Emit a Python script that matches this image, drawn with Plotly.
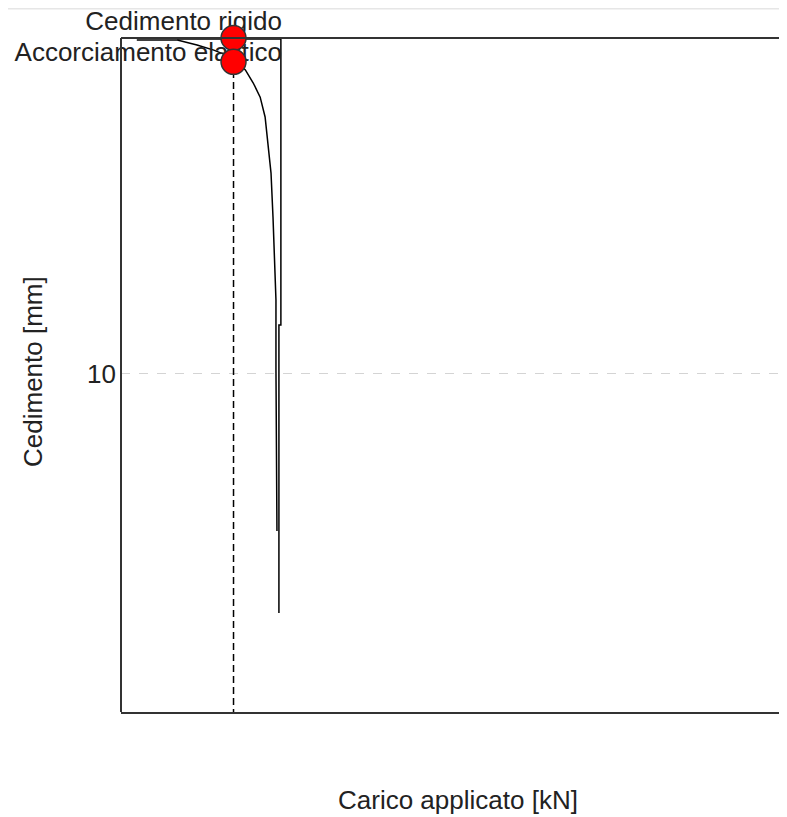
import plotly.graph_objects as go

# load-settlement curve (loading branch)
load_kn = [24, 85.5, 115.5, 141, 171, 189, 201, 211.5, 219, 223.5, 228, 231, 234, 235.5, 235.5, 237]
settle_mm = [0.06, 0.06, 0.21, 0.36, 0.6, 0.95, 1.34, 1.76, 2.35, 3.13, 4.02, 5.33, 6.70, 7.80, 9.85, 14.67]

# second branch (vertical / return along the top)
load2_kn = [240, 240, 243, 243, 85.5]
settle2_mm = [17.11, 8.54, 8.54, 0.03, 0.03]

# reference points
pt_names = ["Cedimento rigido", "Accorciamento elastico"]
pt_load = [171, 171]
pt_settle = [0.0, 0.71]
label_dx = 73.5
label_dy = [-0.42, -0.21]

y_max = 20.06
y_top = -0.893
x_max = 1000

fig = go.Figure()

fig.add_trace(go.Scatter(
    x=[pt_load[0], pt_load[0]], y=[0, y_max], mode="lines",
    line=dict(color="black", width=1.5, dash="7px,4px"), hoverinfo="skip"))

fig.add_trace(go.Scatter(
    x=load_kn, y=settle_mm, mode="lines",
    line=dict(color="black", width=1.5), cliponaxis=False))
fig.add_trace(go.Scatter(
    x=load2_kn, y=settle2_mm, mode="lines",
    line=dict(color="black", width=1.5), cliponaxis=False))

fig.add_trace(go.Scatter(
    x=[x + label_dx for x in pt_load],
    y=[s + d for s, d in zip(pt_settle, label_dy)],
    mode="text", text=pt_names, textposition="middle left",
    textfont=dict(family="Liberation Sans", size=26, color="#222"),
    cliponaxis=False))

for i in range(2):
    fig.add_trace(go.Scatter(
        x=[pt_load[i]], y=[pt_settle[i]], mode="markers",
        marker=dict(size=25, color="red", line=dict(color="#333", width=1.5)),
        cliponaxis=False, name=pt_names[i]))

# frame: top and left edges (bottom comes from the x axis line)
fig.add_shape(type="line", xref="paper", yref="y", x0=0, x1=1.02, y0=0, y1=0,
              line=dict(color="#333", width=2))
fig.add_shape(type="line", xref="paper", yref="y", x0=0, x1=0, y0=0, y1=y_max,
              line=dict(color="#333", width=2))
fig.add_shape(type="line", xref="paper", yref="paper",
              x0=-0.2, x1=1.02, y0=1.0, y1=1.0,
              line=dict(color="#e6e6e6", width=3))

# axis titles
fig.add_annotation(text="Carico applicato [kN]", xref="paper", yref="paper",
                   x=0.512, y=0, yshift=-88, showarrow=False,
                   xanchor="center", yanchor="middle", font=dict(size=26))
fig.add_annotation(text="Cedimento [mm]", xref="paper", yref="y",
                   x=0, xshift=-88, y=9.94, showarrow=False, textangle=-90,
                   xanchor="center", yanchor="middle", font=dict(size=26))

fig.update_layout(
    width=771, height=809,
    margin=dict(l=113, r=0, t=0, b=105),
    plot_bgcolor="white", paper_bgcolor="white",
    showlegend=False,
    font=dict(family="Liberation Sans", size=26, color="#222"),
    xaxis=dict(range=[0, x_max], showgrid=False, zeroline=False,
               showticklabels=False, ticks="",
               showline=True, linecolor="#333", linewidth=2),
    yaxis=dict(range=[y_max, y_top], tickvals=[10], ticktext=["10"],
               showgrid=True, gridcolor="#d4d4d4", griddash="dash", gridwidth=1,
               zeroline=False, ticks="", showline=False,
               tickfont=dict(size=26), ticklabelstandoff=4),
)

fig.write_html("out.html")
